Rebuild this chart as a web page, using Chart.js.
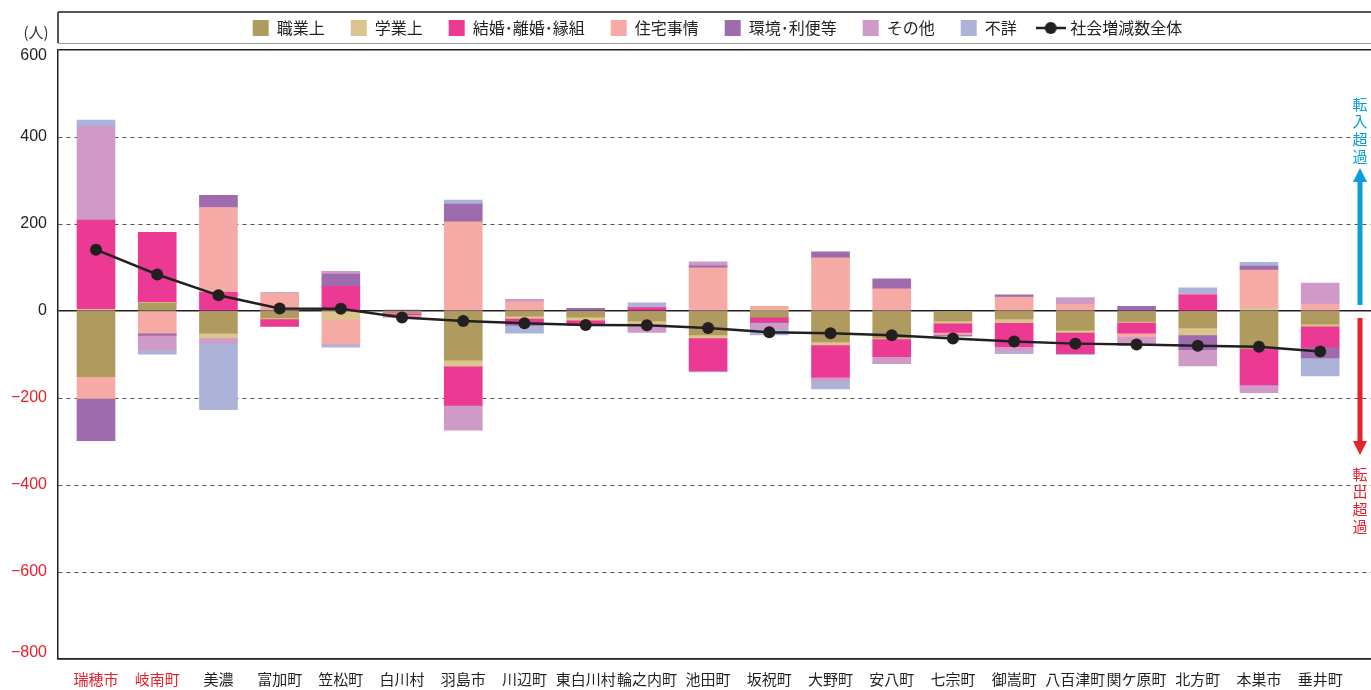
<!DOCTYPE html>
<html>
<head>
<meta charset="utf-8">
<script src="https://cdn.jsdelivr.net/npm/chart.js@4"></script>
<style>
html, body { margin: 0; padding: 0; background: #fff; overflow: hidden; }
#chart { display: block; }
</style>
</head>
<body>
<canvas id="chart" width="1371" height="690"></canvas>
<script>
// towns, left to right
var towns = ['瑞穂市', '岐南町', ['美濃', '加茂市'], '富加町', '笠松町', '白川村', '羽島市', '川辺町', '東白川村', '輪之内町', '池田町',
	'坂祝町', '大野町', '安八町', '七宗町', '御嵩町', '八百津町', '関ケ原町', '北方町', '本巣市', '垂井町'];

// reasons (persons)
var shokugyo = [-151, 18, -51, -16, 0, -4, -113, -12, -14, -23, -55, -14, -71, -62, -23, -18, -44, -24, -39, -87, -30];
var gakugyo  = [4, 2, -11, -2, -19, -1, -14, -5, -7, -6, -7, 2, -7, -2, -5, -9, -5, -2, -16, 7, -5];
var kekkon   = [205, 161, 43, -17, 57, -4, -90, -8, -8, 8, -76, -11, -74, -41, -21, -55, -48, -25, 37, -83, -48];
var jutaku   = [-50, -51, 195, 41, -57, -2, 205, 21, -5, -3, 99, 9, 122, 51, -5, 32, 15, -8, 2, 87, 16];
var kankyo   = [-97, -5, 28, 0, 28, 2, 41, -8, 6, 0, 5, -2, 14, 23, -2, 5, -2, 11, -34, 9, -25];
var sonota   = [216, -34, -12, 0, 6, -3, -57, 6, 0, -17, 9, -14, -9, -16, -2, -11, 14, -20, -37, -18, 48];
var fusho    = [14, -9, -153, 2, -7, 0, 9, -18, 0, 11, -2, -14, -18, 0, 0, -5, 2, 0, 14, 9, -41];
// total social increase
var total    = [141, 84, 36, 6, 5, -15, -23, -28, -32, -33, -39, -49, -51, -56, -63, -70, -75, -77, -80, -82, -93];

var yTicks = [-800, -600, -400, -200, 0, 200, 400, 600];

var RED = '#e8202a', BLUE = '#0a9fdc', INK = '#231f20';
var JP = '"Noto Sans CJK JP", "Noto Sans", sans-serif';
var NUM_FONT = '16px "Liberation Sans", Arial, sans-serif';

function toPoints(arr) {
	return arr.map(function(v, i) { return { x: i, y: v }; });
}

function barSet(label, arr, color) {
	return {
		type: 'bar',
		label: label,
		data: toPoints(arr),
		backgroundColor: color,
		borderWidth: 0,
		barThickness: 38,
		stack: 'reasons',
		order: 1
	};
}

function isEdge(v) {
	return v === yTicks[0] || v === yTicks[yTicks.length - 1];
}

function yLabel(v) {
	return v < 0 ? '\u2212' + Math.abs(v) : String(v);
}

//legend icon for the line series
var lineIcon = document.createElement('canvas');
lineIcon.width = 30; lineIcon.height = 14;
var ic = lineIcon.getContext('2d');
ic.strokeStyle = INK; ic.lineWidth = 2.5;
ic.beginPath(); ic.moveTo(0, 7); ic.lineTo(30, 7); ic.stroke();
ic.fillStyle = INK;
ic.beginPath(); ic.arc(15, 7, 6, 0, Math.PI * 2); ic.fill();

function drawArrow(ctx, x, from, to, color) {
	var dir = to < from ? -1 : 1;
	ctx.fillStyle = color;
	ctx.fillRect(x - 2.5, Math.min(from, to - dir * 12), 5, Math.abs(to - dir * 12 - from));
	ctx.beginPath();
	ctx.moveTo(x - 7, to - dir * 14);
	ctx.lineTo(x + 7, to - dir * 14);
	ctx.lineTo(x, to);
	ctx.closePath();
	ctx.fill();
}

function verticalText(ctx, text, x, y0, step, color) {
	ctx.fillStyle = color;
	for (var n = 0; n < text.length; n++) {
		ctx.fillText(text[n], x, y0 + n * step);
	}
}

var decor = {
	id: 'decor',
	afterLayout: function(chart) {
		//moving the legend a bit, like the original
		chart.legend.left += 32;
		chart.legend.right += 32;
		chart.legend.top -= 4;
		chart.legend.bottom -= 4;
	},
	afterDraw: function(chart) {
		var ctx = chart.ctx, area = chart.chartArea, y = chart.scales.y, zero = y.getPixelForValue(0);
		ctx.save();
		//legend frame
		ctx.strokeStyle = INK; ctx.lineWidth = 1.5;
		ctx.beginPath(); ctx.moveTo(area.left, 12); ctx.lineTo(chart.width, 12); ctx.stroke();
		ctx.beginPath(); ctx.moveTo(area.left, 12); ctx.lineTo(area.left, 43); ctx.stroke();
		ctx.strokeStyle = '#9a9a9a'; ctx.lineWidth = 1;
		ctx.beginPath(); ctx.moveTo(area.left, 43.5); ctx.lineTo(chart.width, 43.5); ctx.stroke();
		//unit
		ctx.fillStyle = '#333';
		ctx.font = '15px ' + JP;
		ctx.textAlign = 'center';
		ctx.textBaseline = 'middle';
		ctx.fillText('(人)', 36, 32);
		//top and bottom y labels sit a little inside the frame
		ctx.font = NUM_FONT;
		ctx.textAlign = 'right';
		var top = yTicks[yTicks.length - 1], bottom = yTicks[0];
		ctx.fillStyle = INK;
		ctx.fillText(yLabel(top), area.left - 11, y.getPixelForValue(top) + 6);
		ctx.fillStyle = RED;
		ctx.fillText(yLabel(bottom), area.left - 11, y.getPixelForValue(bottom) - 6);
		//arrows
		ctx.font = '15px ' + JP;
		ctx.textAlign = 'center';
		drawArrow(ctx, 1360, zero - 6, zero - 143, BLUE);
		drawArrow(ctx, 1360, zero + 7, zero + 144, RED);
		verticalText(ctx, '転入超過', 1360, zero - 207, 17.5, BLUE);
		verticalText(ctx, '転出超過', 1360, zero + 163, 17.5, RED);
		ctx.restore();
	}
};

var datasets = [
	barSet('職業上', shokugyo, '#af9b5f'),
	barSet('学業上', gakugyo, '#dbc48e'),
	barSet('結婚･離婚･縁組', kekkon, '#ec3a94'),
	barSet('住宅事情', jutaku, '#f6aaa5'),
	barSet('環境･利便等', kankyo, '#9e6cad'),
	barSet('その他', sonota, '#cf9ac7'),
	barSet('不詳', fusho, '#adb2d9'),
	{
		type: 'line',
		label: '社会増減数全体',
		data: toPoints(total),
		borderColor: INK,
		borderWidth: 2.5,
		pointRadius: 6,
		pointBackgroundColor: INK,
		pointBorderWidth: 0,
		stack: 'total',
		order: -1
	}
];

new Chart(document.getElementById('chart'), {
	type: 'bar',
	data: { datasets: datasets },
	plugins: [decor],
	options: {
		responsive: false,
		animation: false,
		layout: { autoPadding: false, padding: { top: -2, left: 0, right: 0, bottom: 0 } },
		plugins: {
			tooltip: { enabled: false },
			legend: {
				position: 'top',
				labels: {
					usePointStyle: true,
					boxWidth: 16,
					boxHeight: 16,
					padding: 26,
					color: INK,
					font: { family: JP, size: 16 },
					generateLabels: function(chart) {
						return chart.data.datasets.map(function(ds, n) {
							return {
								text: ds.type === 'line' ? ' ' + ds.label : ds.label,
								fillStyle: ds.type === 'line' ? INK : ds.backgroundColor,
								strokeStyle: 'rgba(0,0,0,0)',
								lineWidth: 0,
								pointStyle: ds.type === 'line' ? lineIcon : 'rect',
								fontColor: INK,
								hidden: false,
								datasetIndex: n
							};
						});
					}
				}
			}
		},
		scales: {
			x: {
				type: 'linear',
				stacked: true,
				offset: false,
				min: -0.621,
				max: 20.83,
				afterFit: function(scale) { scale.height = 31; },
				grid: { display: false, drawTicks: false, offset: false },
				border: { display: true, color: INK, width: 1.5 },
				ticks: {
					stepSize: 1,
					includeBounds: false,
					maxTicksLimit: 100,
					autoSkip: false,
					maxRotation: 0,
					padding: 11,
					font: { family: JP, size: 15 },
					color: function(c) {
						var i = c.tick ? Math.round(c.tick.value) : -1;
						return (i === 0 || i === 1) ? RED : INK;
					},
					callback: function(v) {
						if (Math.abs(v - Math.round(v)) > 1e-6) return '';
						var t = towns[Math.round(v)];
						return t === undefined ? '' : t;
					}
				}
			},
			y: {
				stacked: true,
				min: yTicks[0],
				max: yTicks[yTicks.length - 1],
				afterFit: function(scale) { scale.width = 58; },
				afterBuildTicks: function(scale) {
					scale.ticks = yTicks.map(function(v) { return { value: v }; });
				},
				grid: {
					drawTicks: false,
					color: function(c) {
						var v = c.tick ? c.tick.value : null;
						return (v === 0 || isEdge(v)) ? INK : '#555';
					},
					lineWidth: function(c) {
						var v = c.tick ? c.tick.value : null;
						return (v === 0 || isEdge(v)) ? 1.5 : 1;
					}
				},
				border: {
					display: true,
					color: INK,
					width: 1.5,
					dash: function(c) {
						var v = c.tick ? c.tick.value : null;
						return (v === 0 || isEdge(v)) ? [] : [4, 4];
					}
				},
				ticks: {
					padding: 11,
					font: { family: '"Liberation Sans", Arial, sans-serif', size: 16 },
					color: function(c) { return c.tick && c.tick.value < 0 ? RED : INK; },
					callback: function(v) { return isEdge(v) ? '' : yLabel(v); }
				}
			}
		}
	}
});
</script>
</body>
</html>
